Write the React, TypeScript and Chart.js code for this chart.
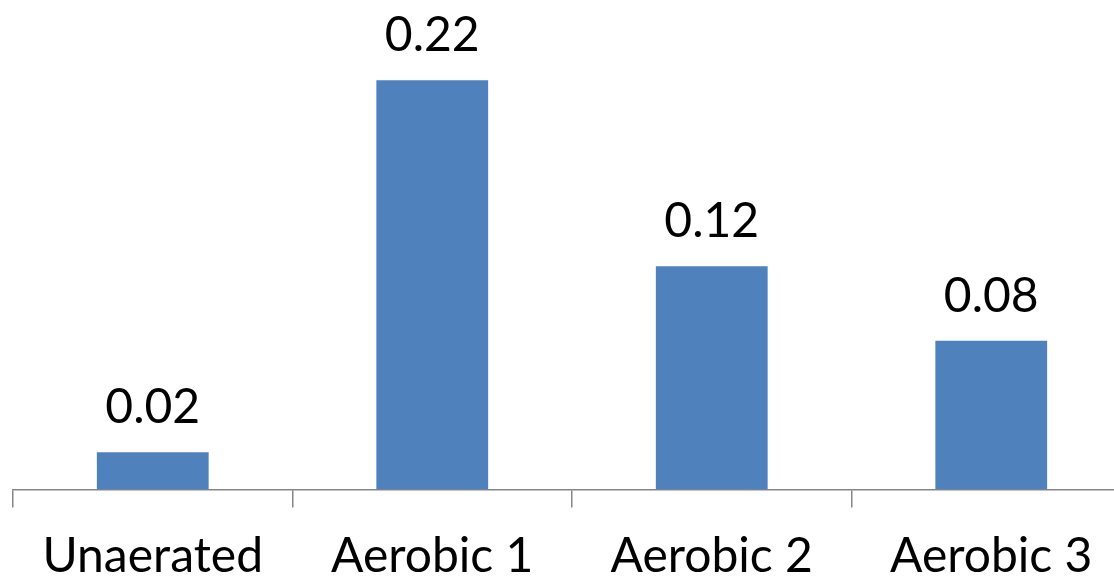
import React, { useEffect, useRef } from "react";
import { Chart, registerables } from "chart.js";

Chart.register(...registerables);

const categories: string[] = ["Unaerated", "Aerobic 1", "Aerobic 2", "Aerobic 3"];
const values: number[] = [0.02, 0.22, 0.12, 0.08];

const FONT = "Lato";

// Draws each bar's value centred above it
const valueLabels = {
  id: "valueLabels",
  afterDatasetsDraw(chart: any) {
    const ctx = chart.ctx;
    const meta = chart.getDatasetMeta(0);
    ctx.save();
    ctx.fillStyle = "#000";
    ctx.font = `48px ${FONT}`;
    ctx.textAlign = "center";
    ctx.textBaseline = "alphabetic";
    meta.data.forEach((bar: any, i: number) => {
      ctx.fillText(values[i].toFixed(2), bar.x, bar.y - 29);
    });
    ctx.restore();
  },
};

export default function App() {
  const ref = useRef<HTMLCanvasElement>(null);

  useEffect(() => {
    if (!ref.current) return;
    const chart = new Chart(ref.current, {
      type: "bar",
      data: {
        labels: categories,
        datasets: [
          {
            data: values,
            backgroundColor: "#4F81BD",
            barPercentage: 0.4,
            categoryPercentage: 1,
          },
        ],
      },
      options: {
        responsive: false,
        animation: false,
        layout: { padding: { left: 13, right: 9, top: 24.5, bottom: 0 } },
        plugins: { legend: { display: false }, tooltip: { enabled: false } },
        scales: {
          y: { display: false, min: 0, max: 0.25 },
          x: {
            offset: true,
            border: { display: true, color: "#868686", width: 1.5 },
            grid: {
              offset: true,
              drawOnChartArea: false,
              drawTicks: true,
              tickLength: 18,
              color: "#868686",
              lineWidth: 1.5,
            },
            ticks: {
              color: "#000",
              padding: 20,
              font: { family: FONT, size: 48 },
              maxRotation: 0,
            },
          },
        },
      },
      plugins: [valueLabels],
    });
    return () => chart.destroy();
  }, []);

  return (
    <div
      style={{
        position: "fixed",
        left: 0,
        top: 0,
        width: 1114,
        height: 576,
        overflow: "hidden",
        background: "#fff",
      }}
    >
      <canvas ref={ref} width={1140} height={605} style={{ display: "block" }} />
    </div>
  );
}
